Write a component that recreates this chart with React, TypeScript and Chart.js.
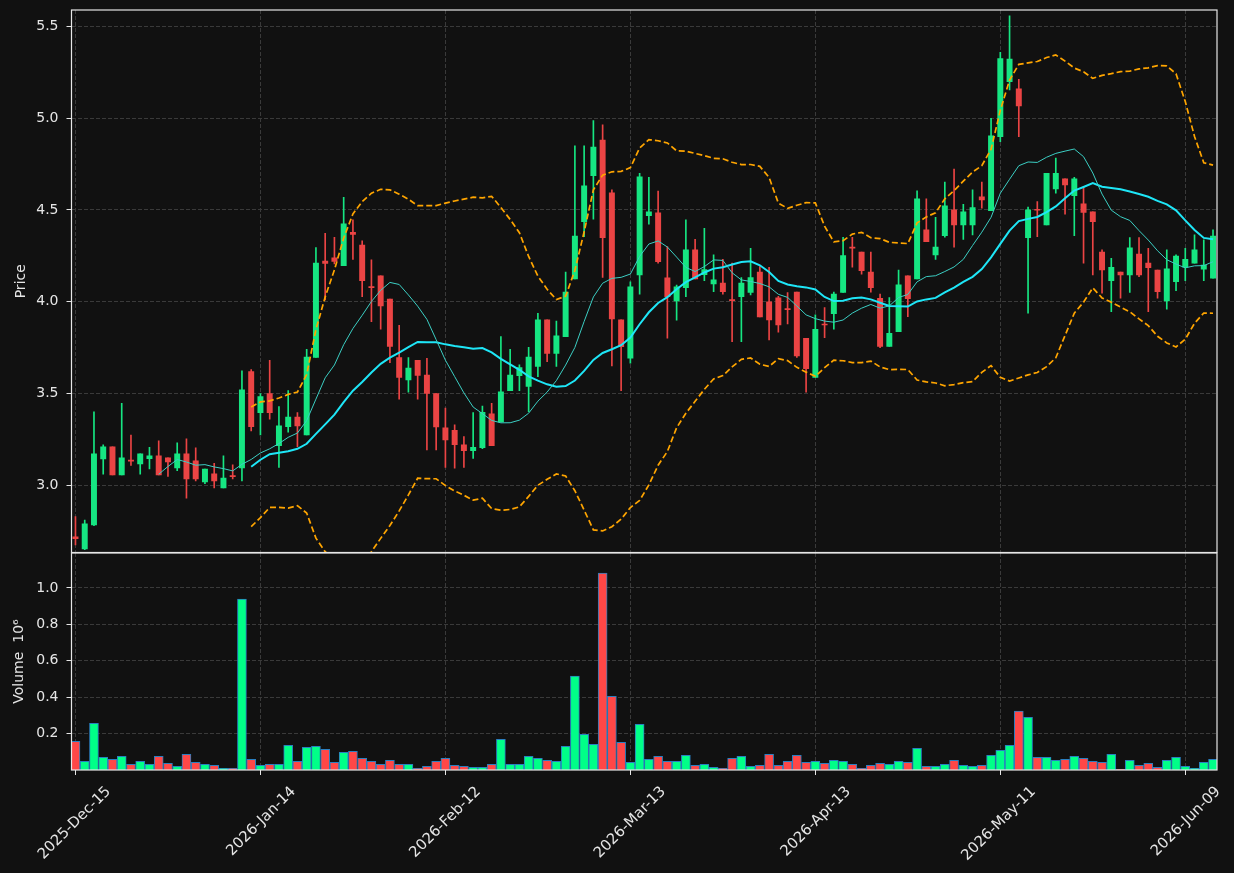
import React, { useEffect, useRef } from 'react';
import { Chart, registerables } from 'chart.js';

Chart.register(...registerables);

// ---------------- data ----------------
const opens = [
  2.72, 2.654, 2.784, 3.144, 3.209, 3.057, 3.136, 3.117, 3.145, 3.16,
  3.149, 3.095, 3.171, 3.133, 3.019, 3.062, 2.986, 3.05, 3.095, 3.62,
  3.396, 3.5, 3.216, 3.32, 3.371, 3.275, 3.696, 4.222, 4.239, 4.197,
  4.378, 4.309, 4.082, 4.141, 4.015, 3.696, 3.574, 3.681, 3.601, 3.5,
  3.313, 3.3, 3.22, 3.189, 3.205, 3.389, 3.345, 3.516, 3.597, 3.538,
  3.647, 3.901, 3.719, 3.81, 4.124, 4.436, 4.687, 4.881, 4.593, 3.901,
  3.692, 4.146, 4.469, 4.484, 4.13, 4.004, 4.077, 4.282, 4.148, 4.097,
  4.101, 4.01, 4.028, 4.05, 4.162, 3.999, 4.021, 3.962, 4.052, 3.801,
  3.587, 3.878, 3.935, 4.05, 4.297, 4.27, 4.162, 4.019, 3.756, 3.837,
  4.141, 4.124, 4.391, 4.255, 4.36, 4.5, 4.418, 4.418, 4.571, 4.496,
  4.899, 5.199, 5.159, 4.349, 4.502, 4.418, 4.614, 4.669, 4.578, 4.533,
  4.489, 4.27, 4.115, 4.161, 4.146, 4.26, 4.21, 4.173, 4.004, 4.109,
  4.188, 4.21, 4.177, 4.128,
];
const highs = [
  2.83, 2.81, 3.4, 3.22, 3.21, 3.447, 3.274, 3.171, 3.207, 3.242,
  3.149, 3.231, 3.253, 3.204, 3.088, 3.12, 3.16, 3.112, 3.623, 3.63,
  3.5, 3.681, 3.429, 3.516, 3.396, 3.741, 4.295, 4.373, 4.351, 4.569,
  4.446, 4.331, 4.228, 4.141, 4.015, 3.872, 3.696, 3.681, 3.692, 3.5,
  3.42, 3.329, 3.265, 3.396, 3.432, 3.447, 3.81, 3.741, 3.656, 3.752,
  3.937, 3.901, 3.894, 4.161, 4.849, 4.849, 4.987, 4.963, 4.609, 3.901,
  4.109, 4.7, 4.678, 4.602, 4.3, 4.09, 4.446, 4.34, 4.4, 4.255,
  4.231, 4.21, 4.131, 4.291, 4.191, 4.188, 4.03, 4.05, 4.052, 3.801,
  3.928, 3.968, 4.052, 4.351, 4.351, 4.27, 4.27, 4.041, 4.022, 4.173,
  4.141, 4.604, 4.56, 4.46, 4.651, 4.722, 4.531, 4.609, 4.651, 4.999,
  5.359, 5.557, 5.212, 4.515, 4.545, 4.7, 4.782, 4.669, 4.678, 4.627,
  4.489, 4.282, 4.237, 4.161, 4.349, 4.349, 4.291, 4.173, 4.282, 4.255,
  4.291, 4.364, 4.337, 4.391,
];
const lows = [
  2.675, 2.65, 2.78, 3.06, 3.057, 3.057, 3.108, 3.06, 3.089, 3.057,
  3.048, 3.08, 2.93, 3.024, 3.009, 2.986, 2.986, 3.035, 3.024, 3.296,
  3.275, 3.36, 3.098, 3.289, 3.211, 3.275, 3.696, 4.01, 4.206, 4.197,
  4.231, 4.028, 3.892, 3.85, 3.668, 3.469, 3.507, 3.469, 3.193, 3.193,
  3.098, 3.093, 3.098, 3.147, 3.2, 3.216, 3.345, 3.516, 3.516, 3.401,
  3.592, 3.674, 3.647, 3.81, 4.124, 4.355, 4.449, 4.133, 3.65, 3.516,
  3.665, 4.041, 4.422, 4.21, 3.801, 3.899, 4.028, 4.124, 4.115, 4.055,
  4.041, 3.783, 3.783, 4.037, 3.917, 3.792, 3.834, 3.879, 3.696, 3.507,
  3.587, 3.804, 3.85, 4.05, 4.188, 4.15, 4.052, 3.75, 3.756, 3.837,
  3.919, 4.124, 4.327, 4.231, 4.351, 4.297, 4.34, 4.364, 4.509, 4.496,
  4.872, 5.154, 4.899, 3.937, 4.355, 4.418, 4.591, 4.477, 4.36, 4.21,
  4.146, 4.046, 3.946, 4.019, 4.05, 4.137, 3.946, 4.019, 3.959, 4.06,
  4.115, 4.21, 4.115, 4.128,
];
const closes = [
  2.71, 2.79, 3.171, 3.209, 3.057, 3.149, 3.132, 3.171, 3.16, 3.057,
  3.128, 3.171, 3.035, 3.035, 3.088, 3.024, 3.04, 3.047, 3.52, 3.32,
  3.483, 3.396, 3.324, 3.371, 3.324, 3.699, 4.211, 4.208, 4.219, 4.424,
  4.366, 4.115, 4.077, 3.977, 3.756, 3.587, 3.639, 3.598, 3.5, 3.318,
  3.247, 3.222, 3.189, 3.207, 3.398, 3.216, 3.509, 3.601, 3.641, 3.699,
  3.901, 3.719, 3.814, 4.052, 4.358, 4.631, 4.843, 4.349, 3.906, 3.755,
  4.081, 4.68, 4.489, 4.218, 4.028, 4.081, 4.282, 4.124, 4.175, 4.119,
  4.055, 4.006, 4.101, 4.131, 3.917, 3.901, 3.874, 3.957, 3.705, 3.636,
  3.85, 3.873, 4.041, 4.251, 4.292, 4.169, 4.077, 3.756, 3.828, 4.092,
  4.017, 4.56, 4.327, 4.297, 4.522, 4.418, 4.489, 4.513, 4.554, 4.903,
  5.324, 5.322, 5.066, 4.5, 4.498, 4.7, 4.7, 4.636, 4.669, 4.486,
  4.436, 4.173, 4.188, 4.146, 4.293, 4.146, 4.186, 4.055, 4.179, 4.249,
  4.231, 4.282, 4.2, 4.358,
];
// volume in millions (axis shows "Volume 10^6")
const volumes = [
  0.158, 0.048, 0.257, 0.07, 0.059, 0.075, 0.031, 0.048, 0.031, 0.075,
  0.037, 0.02, 0.086, 0.042, 0.031, 0.026, 0.009, 0.009, 0.939, 0.059,
  0.026, 0.031, 0.031, 0.136, 0.048, 0.125, 0.13, 0.114, 0.042, 0.097,
  0.103, 0.064, 0.048, 0.031, 0.053, 0.031, 0.031, 0.009, 0.02, 0.048,
  0.064, 0.026, 0.02, 0.015, 0.015, 0.031, 0.169, 0.031, 0.031, 0.075,
  0.064, 0.053, 0.048, 0.13, 0.516, 0.196, 0.141, 1.082, 0.405, 0.152,
  0.042, 0.251, 0.059, 0.075, 0.048, 0.048, 0.081, 0.026, 0.031, 0.015,
  0.009, 0.064, 0.075, 0.02, 0.026, 0.086, 0.026, 0.048, 0.081, 0.042,
  0.048, 0.037, 0.053, 0.048, 0.031, 0.009, 0.026, 0.037, 0.031, 0.048,
  0.042, 0.119, 0.02, 0.02, 0.031, 0.053, 0.026, 0.02, 0.026, 0.081,
  0.108, 0.136, 0.323, 0.29, 0.07, 0.07, 0.053, 0.059, 0.075, 0.064,
  0.048, 0.042, 0.086, 0.004, 0.053, 0.026, 0.037, 0.015, 0.053, 0.07,
  0.02, 0.009, 0.042, 0.059,
];
const tickIndex = [0, 20, 40, 60, 80, 100, 120];
const tickLabels = [
  '2025-Dec-15', '2026-Jan-14', '2026-Feb-12', '2026-Mar-13',
  '2026-Apr-13', '2026-May-11', '2026-Jun-09',
];
const priceTicks = [3.0, 3.5, 4.0, 4.5, 5.0, 5.5];
const volumeTicks = [0.2, 0.4, 0.6, 0.8, 1.0];

// ---------------- indicators (derived from closes) ----------------
function sma(values: number[], n: number): (number | null)[] {
  return values.map((_, i) => {
    if (i < n - 1) return null;
    let s = 0;
    for (let k = i - n + 1; k <= i; k++) s += values[k];
    return s / n;
  });
}
function bands(values: number[], n: number, k: number, sign: number): (number | null)[] {
  const m = sma(values, n);
  return values.map((_, i) => {
    const mean = m[i];
    if (mean === null) return null;
    let v = 0;
    for (let j = i - n + 1; j <= i; j++) v += (values[j] - mean) ** 2;
    return mean + sign * k * Math.sqrt(v / n);
  });
}

// ---------------- styling ----------------
const BG = '#111111';
const TEXT = '#e6e6e6';
const GRID = '#3a3a3a';
const FRAME = '#e6e6e6';
const UP = '#16e682';
const DOWN = '#eb4444';
const VUP = '#00ff88';
const VDOWN = '#ff4747';
const FONT = 'DejaVu Sans';
const X_MIN = -0.43;
const X_MAX = 123.43;
const AXIS_W = 71.5;

const framePlugin = {
  id: 'frame',
  afterDraw(chart: any) {
    const { ctx, chartArea } = chart;
    const { left, top, right, bottom } = chartArea;
    ctx.save();
    ctx.strokeStyle = FRAME;
    ctx.lineWidth = 1.2;
    ctx.setLineDash([]);
    ctx.strokeRect(left, top, right - left, bottom - top);
    ctx.restore();
  },
};

const noPad = (s: any) => {
  s.paddingTop = 0;
  s.paddingBottom = 0;
  s.paddingLeft = 0;
  s.paddingRight = 0;
};

export default function App() {
  const priceRef = useRef<HTMLCanvasElement | null>(null);
  const volRef = useRef<HTMLCanvasElement | null>(null);

  useEffect(() => {
    const idx = closes.map((_, i) => i);
    const isUp = idx.map((i) => closes[i] >= opens[i]);
    const candleColors = isUp.map((u) => (u ? UP : DOWN));
    const volColors = isUp.map((u) => (u ? VUP : VDOWN));

    const ma10 = sma(closes, 10);
    const ma20 = sma(closes, 20);
    const bbUp = bands(closes, 20, 2, 1);
    const bbLo = bands(closes, 20, 2, -1);
    const toXY = (arr: (number | null)[]) => arr.map((y, i) => ({ x: i, y }));

    const xCommon = {
      type: 'linear' as const,
      min: X_MIN,
      max: X_MAX,
      offset: false,
      afterBuildTicks: (s: any) => {
        s.ticks = tickIndex.map((v) => ({ value: v }));
      },
    };

    const priceChart = new Chart(priceRef.current as HTMLCanvasElement, {
      type: 'bar',
      data: {
        datasets: [
          {
            type: 'line',
            label: 'MA10',
            data: toXY(ma10),
            borderColor: '#3ccfc4',
            borderWidth: 1,
            pointRadius: 0,
            tension: 0,
            order: 0,
          },
          {
            type: 'line',
            label: 'MA20',
            data: toXY(ma20),
            borderColor: '#1ee6f7',
            borderWidth: 2,
            pointRadius: 0,
            tension: 0,
            order: 0,
          },
          {
            type: 'line',
            label: 'BB upper',
            data: toXY(bbUp),
            borderColor: '#ffa500',
            borderWidth: 1.7,
            borderDash: [6, 3],
            pointRadius: 0,
            tension: 0,
            order: 0,
          },
          {
            type: 'line',
            label: 'BB lower',
            data: toXY(bbLo),
            borderColor: '#ffa500',
            borderWidth: 1.7,
            borderDash: [6, 3],
            pointRadius: 0,
            tension: 0,
            order: 0,
          },
          {
            type: 'bar',
            label: 'wick',
            data: idx.map((i) => ({ x: i, y: [lows[i], highs[i]] })) as any,
            backgroundColor: candleColors,
            borderWidth: 0,
            barThickness: 1,
            grouped: false,
            order: 3,
          },
          {
            type: 'bar',
            label: 'body',
            data: idx.map((i) => ({ x: i, y: [opens[i], closes[i]] })) as any,
            backgroundColor: candleColors,
            borderWidth: 0,
            barThickness: 5.3,
            minBarLength: 1,
            grouped: false,
            order: 2,
          },
        ],
      },
      options: {
        animation: false,
        responsive: false,
        maintainAspectRatio: false,
        layout: { padding: { top: 10, right: 17, bottom: 320.5, left: 0 } },
        plugins: { legend: { display: false }, tooltip: { enabled: false } },
        scales: {
          x: {
            ...xCommon,
            ticks: { display: false },
            grid: { color: GRID, lineWidth: 1, drawTicks: false, offset: false },
            border: { display: false, dash: [4, 2] },
            afterFit: (s: any) => {
              s.height = 0;
              noPad(s);
            },
          } as any,
          y: {
            type: 'linear',
            position: 'left',
            min: 2.634,
            max: 5.589,
            afterBuildTicks: (s: any) => {
              s.ticks = priceTicks.map((v) => ({ value: v }));
            },
            ticks: {
              color: TEXT,
              font: { family: FONT, size: 14 },
              padding: 8,
              callback: (v: any) => Number(v).toFixed(1),
            },
            grid: {
              color: GRID,
              lineWidth: 1,
              tickColor: FRAME,
              tickLength: 5,
              tickWidth: 1,
              tickBorderDash: [],
            },
            border: { display: false, dash: [4, 2] },
            title: {
              display: true,
              text: 'Price',
              color: TEXT,
              font: { family: FONT, size: 14 },
              padding: { top: 13, bottom: 0 },
            },
            afterFit: (s: any) => {
              s.width = AXIS_W;
              noPad(s);
            },
          } as any,
        },
      },
      plugins: [framePlugin],
    });

    const volChart = new Chart(volRef.current as HTMLCanvasElement, {
      type: 'bar',
      data: {
        datasets: [
          {
            label: 'Volume',
            data: idx.map((i) => ({ x: i, y: volumes[i] })) as any,
            backgroundColor: volColors,
            borderColor: '#2a7fc0',
            borderWidth: 1,
            barThickness: 9,
            grouped: false,
          },
        ],
      },
      options: {
        animation: false,
        responsive: false,
        maintainAspectRatio: false,
        layout: { padding: { top: 553, right: 17, bottom: 0, left: 0 } },
        plugins: { legend: { display: false }, tooltip: { enabled: false } },
        scales: {
          x: {
            ...xCommon,
            ticks: {
              color: TEXT,
              font: { family: FONT, size: 14.8 },
              minRotation: 45,
              maxRotation: 45,
              autoSkip: false,
              padding: 8,
              labelOffset: 33,
              callback: (_v: any, i: number) => tickLabels[i],
            },
            grid: {
              color: GRID,
              lineWidth: 1,
              tickColor: FRAME,
              tickLength: 5,
              tickWidth: 1,
              tickBorderDash: [],
              offset: false,
            },
            border: { display: false, dash: [4, 2] },
            afterFit: (s: any) => {
              s.height = 103;
              noPad(s);
            },
          } as any,
          y: {
            type: 'linear',
            position: 'left',
            min: 0,
            max: 1.192,
            afterBuildTicks: (s: any) => {
              s.ticks = volumeTicks.map((v) => ({ value: v }));
            },
            ticks: {
              color: TEXT,
              font: { family: FONT, size: 14 },
              padding: 8,
              callback: (v: any) => Number(v).toFixed(1),
            },
            grid: {
              color: GRID,
              lineWidth: 1,
              tickColor: FRAME,
              tickLength: 5,
              tickWidth: 1,
              tickBorderDash: [],
            },
            border: { display: false, dash: [4, 2] },
            title: {
              display: true,
              text: 'Volume  10⁶',
              color: TEXT,
              font: { family: FONT, size: 14 },
              padding: { top: 11, bottom: 0 },
            },
            afterFit: (s: any) => {
              s.width = AXIS_W;
              noPad(s);
            },
          } as any,
        },
      },
      plugins: [framePlugin],
    });

    return () => {
      priceChart.destroy();
      volChart.destroy();
    };
  }, []);

  const canvasStyle: React.CSSProperties = {
    position: 'absolute',
    left: 0,
    top: 0,
    width: 1234,
    height: 873,
  };

  return (
    <div
      style={{
        position: 'fixed',
        left: 0,
        top: 0,
        width: 1234,
        height: 873,
        background: BG,
        overflow: 'hidden',
      }}
    >
      <canvas ref={volRef} width={1234} height={873} style={canvasStyle} />
      <canvas ref={priceRef} width={1234} height={873} style={canvasStyle} />
    </div>
  );
}
